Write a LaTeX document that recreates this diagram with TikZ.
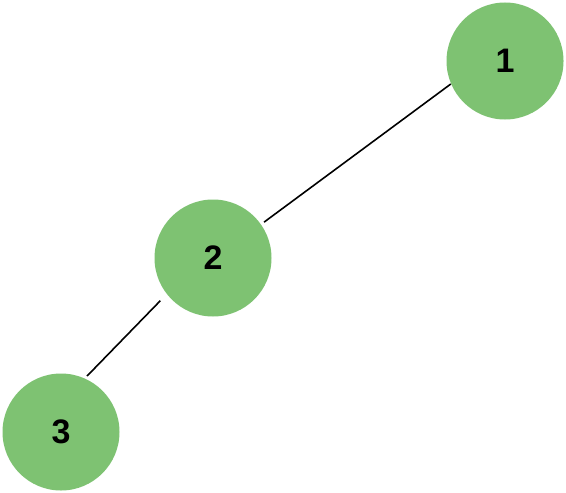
\documentclass[tikz,border=0pt]{standalone}
\usepackage{fontspec}
\setmainfont{Liberation Sans}
\usetikzlibrary{positioning}

\definecolor{nodegreen}{RGB}{126,194,114}

\tikzset{
  treenode/.style={circle, fill=nodegreen, minimum size=58.5pt, inner sep=0pt,
    font=\fontsize{17}{20}\selectfont\bfseries},
  edge/.style={draw=black, line width=0.8pt}
}

\begin{document}
\begin{tikzpicture}[x=0.5pt, y=-0.5pt]
        % Canvas
        \useasboundingbox (0,0) rectangle (566,492);

        % Nodes
        \node[treenode] (one) at (505,61) {1};
        \node[treenode] (two) at (213,258) {2};
        \node[treenode] (three) at (61,432) {3};

        % Edges (leave a small gap at the circles)
        \draw[edge, shorten >=1.75pt] (one.203) -- (two.35);
        \draw[edge, shorten <=4.5pt, shorten >=1.5pt] (two.218) -- (three.66);
\end{tikzpicture}
\end{document}
